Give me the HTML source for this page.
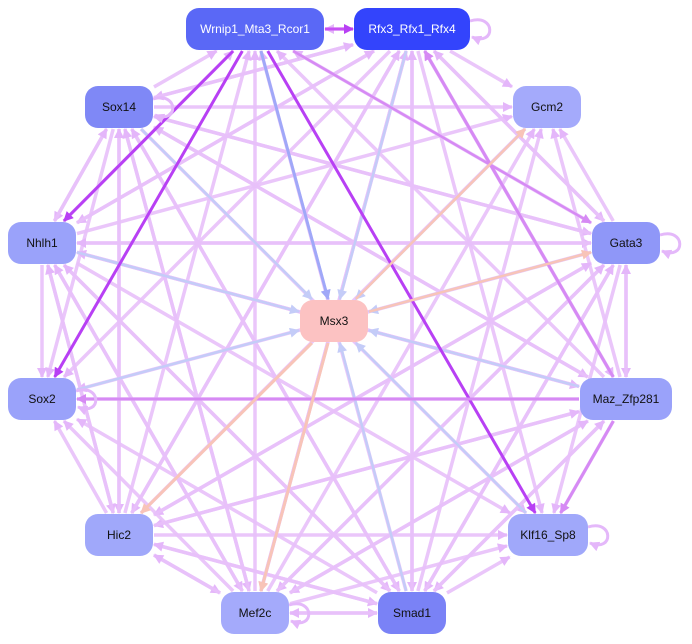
<!DOCTYPE html>
<html><head><meta charset="utf-8"><style>
body{margin:0;width:692px;height:644px;background:#fff;overflow:hidden;font-family:"Liberation Sans",sans-serif}
svg{position:absolute;left:0;top:0}
.n{position:absolute;height:42px;border-radius:13px;display:flex;align-items:center;justify-content:center;font-size:12px;color:#111}
</style></head><body>
<svg id="s" width="692" height="644" viewBox="0 0 692 644">
<defs>
<marker id="a1" viewBox="0 0 10 10" refX="9" refY="5" markerUnits="userSpaceOnUse" markerWidth="12" markerHeight="10" orient="auto"><path d="M0,0L10,5L0,10z" fill="#e4b6fa"/></marker>
<marker id="a2" viewBox="0 0 10 10" refX="9" refY="5" markerUnits="userSpaceOnUse" markerWidth="12" markerHeight="10" orient="auto"><path d="M0,0L10,5L0,10z" fill="#c4ccf8"/></marker>
<marker id="a3" viewBox="0 0 10 10" refX="9" refY="5" markerUnits="userSpaceOnUse" markerWidth="12" markerHeight="10" orient="auto"><path d="M0,0L10,5L0,10z" fill="#b840f4"/></marker>
<marker id="a4" viewBox="0 0 10 10" refX="9" refY="5" markerUnits="userSpaceOnUse" markerWidth="12" markerHeight="10" orient="auto"><path d="M0,0L10,5L0,10z" fill="#d68af4"/></marker>
<marker id="a5" viewBox="0 0 10 10" refX="9" refY="5" markerUnits="userSpaceOnUse" markerWidth="12" markerHeight="10" orient="auto"><path d="M0,0L10,5L0,10z" fill="#f8c4b8"/></marker>
<marker id="a6" viewBox="0 0 10 10" refX="9" refY="5" markerUnits="userSpaceOnUse" markerWidth="12" markerHeight="10" orient="auto"><path d="M0,0L10,5L0,10z" fill="#a0a8f8"/></marker>
</defs>
<g id="g"></g>
</svg>
<div class="n" style="left:186px;top:8px;width:138px;background:#5a68f6;color:#fff">Wrnip1_Mta3_Rcor1</div>
<div class="n" style="left:354px;top:8px;width:116px;background:#3344fc;color:#fff">Rfx3_Rfx1_Rfx4</div>
<div class="n" style="left:85px;top:86px;width:68px;background:#7f88f6">Sox14</div>
<div class="n" style="left:513px;top:86px;width:68px;background:#a4aafb">Gcm2</div>
<div class="n" style="left:8px;top:222px;width:68px;background:#9aa2fa">Nhlh1</div>
<div class="n" style="left:592px;top:222px;width:68px;background:#8f97f8">Gata3</div>
<div class="n" style="left:300px;top:300px;width:68px;background:#fcc2c2">Msx3</div>
<div class="n" style="left:8px;top:378px;width:68px;background:#9aa2fa">Sox2</div>
<div class="n" style="left:580px;top:378px;width:92px;background:#9aa2fa">Maz_Zfp281</div>
<div class="n" style="left:85px;top:514px;width:68px;background:#a0a8fa">Hic2</div>
<div class="n" style="left:508px;top:514px;width:80px;background:#a0a8fa">Klf16_Sp8</div>
<div class="n" style="left:221px;top:592px;width:68px;background:#a4aafb">Mef2c</div>
<div class="n" style="left:378px;top:592px;width:68px;background:#7a82f6">Smad1</div>
<script>
var N={W:[255,29,69],R:[412,29,58],S14:[119,107,34],G:[547,107,34],N:[42,243,34],Ga:[626,243,34],M:[334,321,34],S2:[42,399,34],Z:[626,399,46],H:[119,535,34],K:[548,535,40],Me:[255,613,34],Sm:[412,613,34]};
var g=document.getElementById('g'),ns="http://www.w3.org/2000/svg";
function clip(a,b){var dx=b[0]-a[0],dy=b[1]-a[1];var tx=Math.abs(dx)>0?(b[2]+1)/Math.abs(dx):1e9,ty=Math.abs(dy)>0?22/Math.abs(dy):1e9;var t=Math.min(tx,ty);return [b[0]-dx*t,b[1]-dy*t];}
function E(f,t,c,m,w,o){var a=N[f],b=N[t];var p=clip(a,b),q=clip(b,a);var l=document.createElementNS(ns,'line');l.setAttribute('x1',q[0]);l.setAttribute('y1',q[1]);l.setAttribute('x2',p[0]);l.setAttribute('y2',p[1]);l.setAttribute('stroke',c);l.setAttribute('stroke-width',w||3);l.setAttribute('marker-end','url(#'+m+')');if(o)l.setAttribute('stroke-opacity',o);g.appendChild(l);}
var outer=['W','R','S14','G','N','Ga','S2','Z','H','K','Me','Sm'];
for(var i=0;i<outer.length;i++)for(var j=0;j<outer.length;j++){if(i==j)continue;if((i*7+j*3)%3==0)continue;E(outer[i],outer[j],'#e8c0fa','a1',3.5,0.9);}
['W','R','S14','G','N','Ga','S2','Z','K','Sm'].forEach(function(k){E(k,'M','#c4ccf8','a2',2.5);});
E('W','M','#a0a8f8','a6',3);
E('W','S2','#b840f4','a3',3);E('W','K','#b840f4','a3',3);E('W','N','#b840f4','a3',3);E('W','R','#c850f4','a3',3);
E('Z','S2','#d68af4','a4',3);E('Z','K','#d68af4','a4',3);E('Z','R','#d68af4','a4',3);E('W','Ga','#d68af4','a4',2.5);
E('M','Me','#f8c4b8','a5',3);E('M','H','#f8c4b8','a5',3);E('M','Ga','#f8c4b8','a5',2.5);E('M','G','#f8c4b8','a5',2.5);
function loop(x,y){var p=document.createElementNS(ns,'path');p.setAttribute('d','M'+x+','+(y-8)+'c26,-8 26,26 2,16');p.setAttribute('fill','none');p.setAttribute('stroke','#e4b8fa');p.setAttribute('stroke-width',3);p.setAttribute('marker-end','url(#a1)');g.appendChild(p);}
loop(470,29);loop(660,243);loop(76,399);loop(588,535);loop(289,613);loop(153,107);
</script>
</body></html>
